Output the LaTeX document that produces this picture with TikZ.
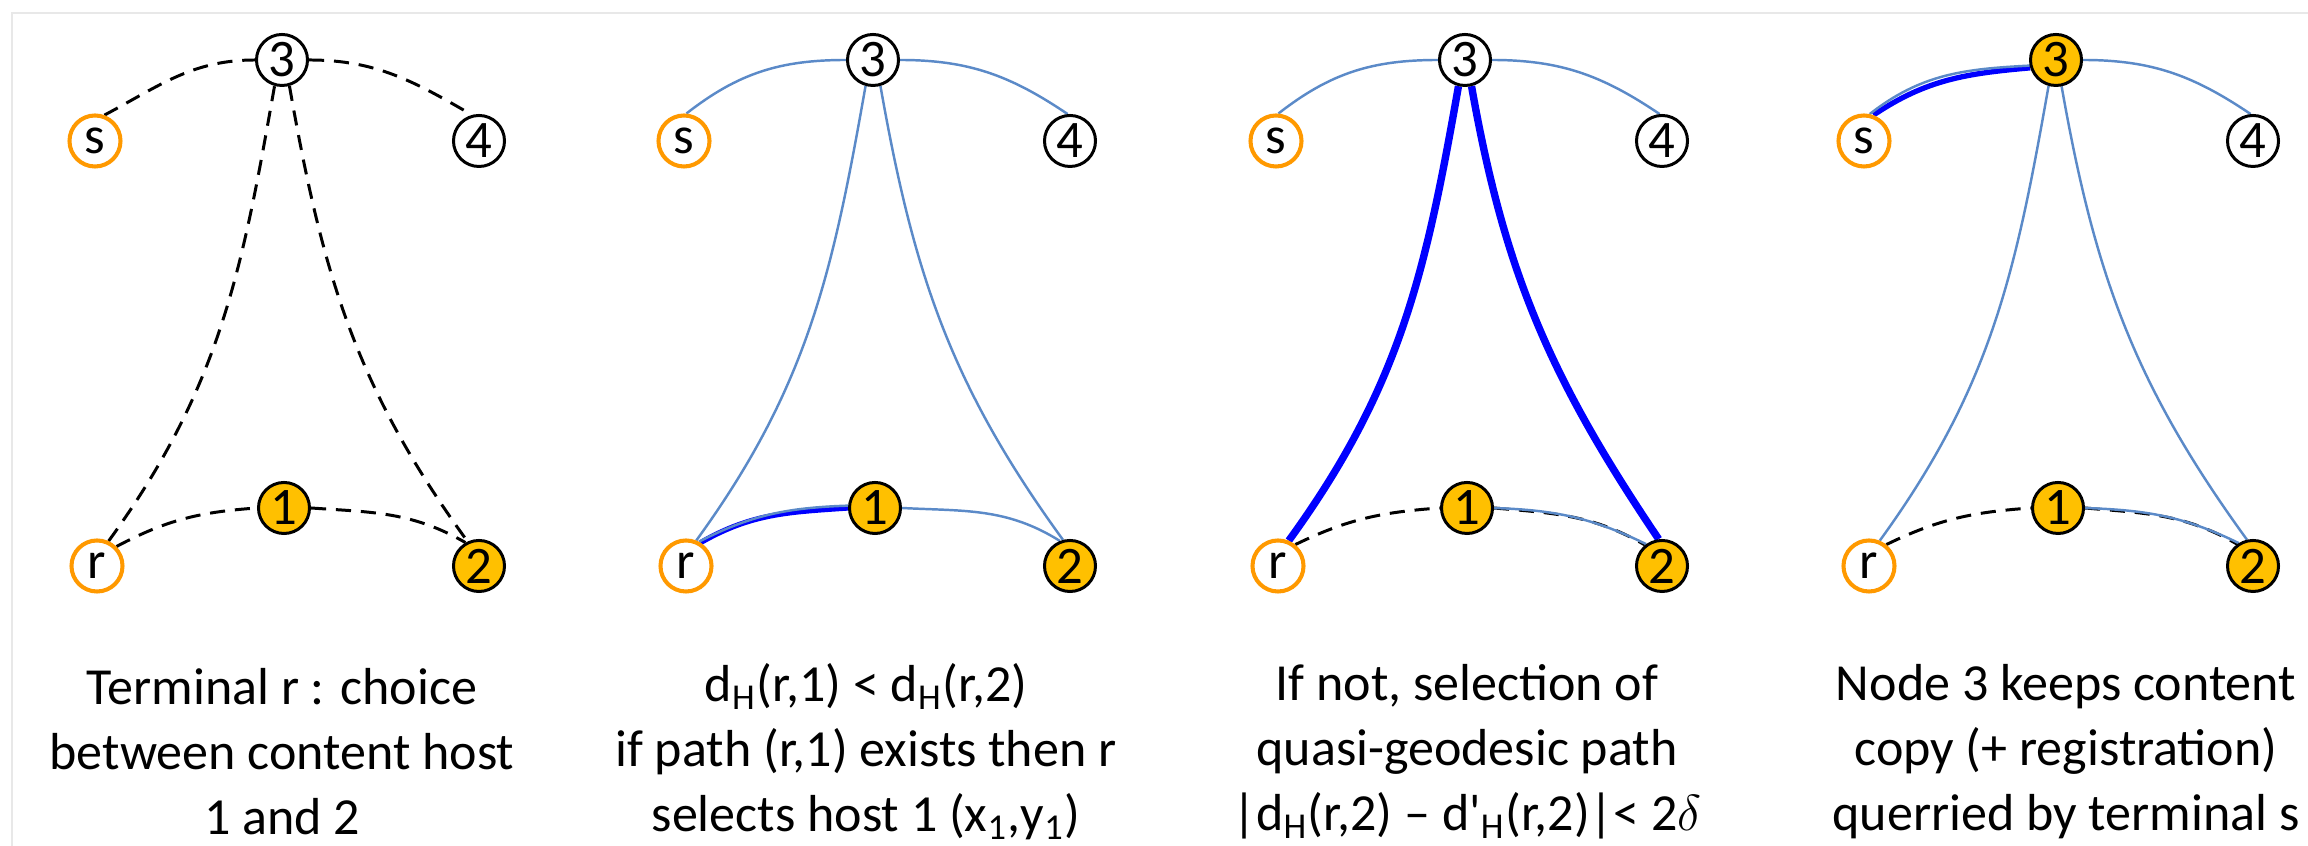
\documentclass[tikz,border=0pt]{standalone}
\usepackage{fontspec}
\setmainfont{Carlito}
\usepackage{tikz}
\usetikzlibrary{backgrounds}
\definecolor{termorange}{HTML}{FF9900}
\definecolor{hostgold}{HTML}{FFC000}
\definecolor{linksteel}{HTML}{5B8AC8}
\definecolor{pathblue}{HTML}{0000FF}
\definecolor{framegray}{HTML}{E8E8E8}
\tikzset{
  % Graph vertices
  vertex/.style={
    circle, draw=black, fill=white, line width=0.85pt,
    minimum size=0.51cm, inner sep=0pt,
    font=\fontsize{15}{15}\selectfont, text=black,
  },
  terminal/.style={vertex, draw=termorange, line width=1.15pt},
  host/.style={vertex, fill=hostgold},
  % Links
  probe/.style={dash pattern=on 4.3pt off 2.8pt, line width=0.85pt, black},
  link/.style={line width=0.7pt, linksteel},
  chosen/.style={line width=1.5pt, pathblue},
  geodesic/.style={line width=2.1pt, pathblue},
  % Captions under each panel
  caption/.style={align=center, font=\fontsize{14.8}{18.5}\selectfont, text=black},
}

\begin{document}
\begin{tikzpicture}[x=0.01cm, y=0.01cm]
  \useasboundingbox (0,0) rectangle (2308,846);
  \draw[framegray, line width=0.6pt] (12,0) -- (12,833) -- (2308,833);

  % Panel 1: choice between the two hosts
  \node[terminal] (sa) at (95,705) {s};
  \node[vertex] (n3a) at (282,786) {3};
  \node[vertex] (n4a) at (479,705) {4};
  \node[host] (n1a) at (284,338) {1};
  \node[terminal] (ra) at (97,280) {r};
  \node[host] (n2a) at (479,280) {2};
  \begin{scope}[on background layer]
    \draw[probe] (sa.70) to[out=28,in=180] (n3a.west);
    \draw[probe] (n3a.east) to[out=0,in=150] (n4a.105);
    \draw[probe] (ra.65) to[out=54,in=260] (n3a.254);
    \draw[probe] (n3a.286) to[out=280,in=126] (n2a.115);
    \draw[probe] (ra.45) to[out=28,in=184] (n1a.west);
    \draw[probe] (n1a.east) to[out=-4,in=150] (n2a.120);
  \end{scope}

  % Panel 2: r selects host 1
  \node[terminal] (sb) at (684,705) {s};
  \node[vertex] (n3b) at (873,786) {3};
  \node[vertex] (n4b) at (1070,705) {4};
  \node[host] (n1b) at (875,338) {1};
  \node[terminal] (rb) at (686,280) {r};
  \node[host] (n2b) at (1070,280) {2};
  \begin{scope}[on background layer]
    \draw[link] (sb.85) to[out=38,in=180] (n3b.west);
    \draw[link] (n3b.east) to[out=0,in=146] (n4b.95);
    \draw[link] (rb.68) to[out=54,in=260] (n3b.254);
    \draw[link] (n3b.286) to[out=280,in=126] (n2b.105);
    \draw[chosen] (rb.58) to[out=30,in=184] (n1b.west);
    \draw[link] (rb.62) to[out=27,in=182] (n1b.175);
    \draw[link] (n1b.east) to[out=-3,in=148] (n2b.112);
  \end{scope}

  % Panel 3: quasi-geodesic path towards host 2
  \node[terminal] (sc) at (1276,705) {s};
  \node[vertex] (n3c) at (1465,786) {3};
  \node[vertex] (n4c) at (1662,705) {4};
  \node[host] (n1c) at (1467,338) {1};
  \node[terminal] (rc) at (1278,280) {r};
  \node[host] (n2c) at (1662,280) {2};
  \begin{scope}[on background layer]
    \draw[link] (sc.85) to[out=38,in=180] (n3c.west);
    \draw[link] (n3c.east) to[out=0,in=146] (n4c.95);
    \draw[geodesic] (rc.67) to[out=54,in=260] (n3c.256);
    \draw[geodesic] (n3c.284) to[out=280,in=124] (n2c.97);
    \draw[probe] (rc.51) to[out=26,in=184] (n1c.west);
    \draw[probe] (n1c.east) to[out=-5,in=150] (n2c.129);
    \draw[link] (n1c.east) to[out=-2,in=154] (n2c.126);
  \end{scope}

  % Panel 4: node 3 keeps a copy for s
  \node[terminal] (sd) at (1864,705) {s};
  \node[host] (n3d) at (2056,786) {3};
  \node[vertex] (n4d) at (2253,705) {4};
  \node[host] (n1d) at (2058,338) {1};
  \node[terminal] (rd) at (1869,280) {r};
  \node[host] (n2d) at (2253,280) {2};
  \begin{scope}[on background layer]
    \draw[chosen] (sd.70) to[out=34,in=185] (n3d.197);
    \draw[link] (sd.78) to[out=38,in=183] (n3d.192);
    \draw[link] (n3d.east) to[out=0,in=146] (n4d.95);
    \draw[link] (rd.67) to[out=54,in=260] (n3d.254);
    \draw[link] (n3d.282) to[out=280,in=126] (n2d.103);
    \draw[probe] (rd.51) to[out=26,in=184] (n1d.west);
    \draw[probe] (n1d.east) to[out=-5,in=150] (n2d.126);
    \draw[link] (n1d.east) to[out=-2,in=154] (n2d.122);
  \end{scope}

  % Captions
  \node[caption] (capa) at (282,94)
    {Terminal r : choice\\between content host\\1 and 2};
  \node[caption] (capb) at (866,94)
    {d\textsubscript{H}(r,1) < d\textsubscript{H}(r,2)\\if path (r,1) exists then r\\selects host 1 (x\textsubscript{1},y\textsubscript{1})};
  \node[caption] (capc) at (1467,94)
    {If not, selection of\\quasi-geodesic path\\|d\textsubscript{H}(r,2) – d\textquotesingle\textsubscript{H}(r,2)|< 2$\delta$};
  \node[caption] (capd) at (2066,94)
    {Node 3 keeps content\\copy (+ registration)\\querried by terminal s};
\end{tikzpicture}
\end{document}
